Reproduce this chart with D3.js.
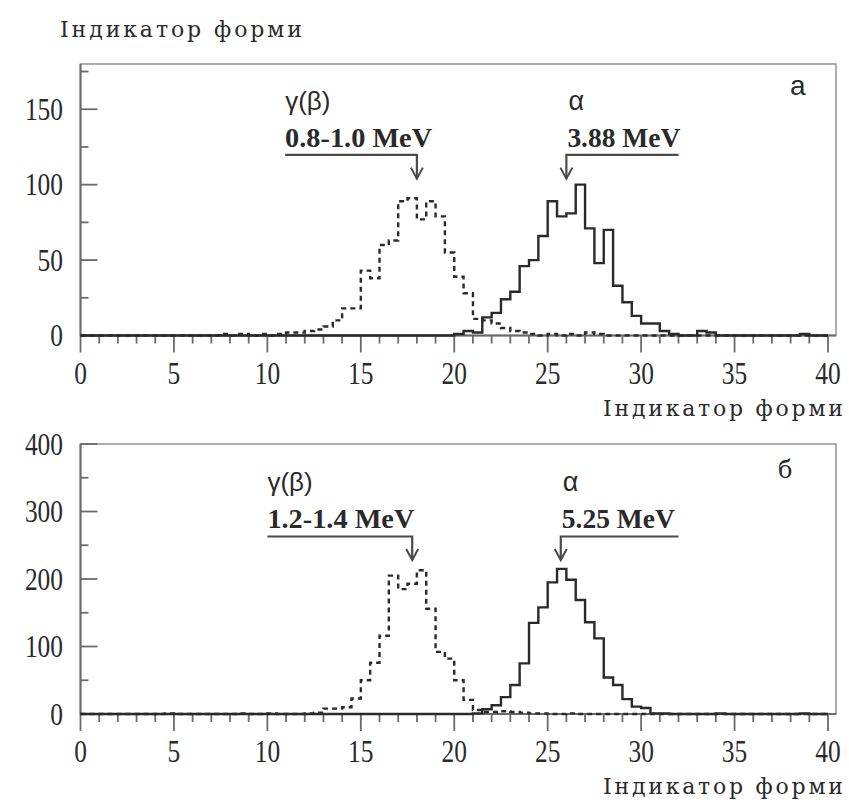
<!DOCTYPE html>
<html><head><meta charset="utf-8">
<script src="https://cdn.jsdelivr.net/npm/d3@7"></script>
<style>body{margin:0;background:#fff}svg{display:block}</style>
</head><body>
<svg id="chart" width="849" height="810"></svg>
<script>
// ---- data ----
const BIN_W = 0.5;           // bin width, bins start at 0
const xMajor = [0,5,10,15,20,25,30,35,40];
const xMinor = d3.range(0,41,1);
const topYMajor = [0,50,100,150];
const topYMinor = [25,75,125,175];
const botYMajor = [0,100,200,300,400];
const botYMinor = [50,150,250,350];
const axisTitle = "Індикатор форми";

const topGamma = [0,0,0,0,0,0,0,0,0,0, 0,0,0,0,0,1,0,1,0,1, 0,1,2,2,3,4,6,10,18,18,
  43,38,60,63,89,91,77,89,79,55, 39,28,11,10,8,5,3,2,1,0, 1,0,1,0,2,1,0,0,0,0,
  0,0,0,0,0,0,0,0,0,0, 0,0,0,0,0,0,0,0,0,0];
const topAlpha = [0,0,0,0,0,0,0,0,0,0, 0,0,0,0,0,0,0,0,0,0, 0,0,0,0,0,0,0,0,0,0,
  0,0,0,0,0,0,0,0,0,0, 1,3,2,12,15,24,29,46,50,66, 89,79,81,100,71,48,70,33,22,13,
  8,8,3,1,0,0,3,2,0,0, 0,0,0,0,0,0,0,1,0,0];
const botGamma = [0,0,0,0,0,0,0,0,0,1, 0,0,0,0,0,0,0,1,0,0, 1,0,0,0,1,2,8,8,10,23,
  50,76,116,205,185,193,213,156,92,82, 50,21,6,3,3,4,3,2,1,1, 0,0,1,0,0,0,0,0,0,0,
  0,0,0,0,0,0,0,0,0,0, 0,0,0,0,0,0,0,0,0,0];
const botAlpha = [0,0,0,0,0,0,0,0,0,0, 0,0,0,0,0,0,0,0,0,0, 0,0,0,0,0,0,0,0,0,0,
  0,0,0,0,0,0,0,0,0,0, 0,0,1,7,13,25,43,75,135,158, 195,215,199,169,136,112,54,43,22,11,
  9,1,1,0,0,0,0,0,1,0, 0,0,0,0,0,0,0,1,0,0];

const panels = [
  {top:64, zero:335.5, ymax:180, yMajor:topYMajor, yMinor:topYMinor, gamma:topGamma, alpha:topAlpha,
   letter:"a", gLabel:"0.8-1.0 MeV", aLabel:"3.88 MeV",
   gTip:[18.0,104], gLineX0:10.95, aTip:[26.0,104], aLineX1:32.0, lineY:119.7},
  {top:444, zero:714, ymax:400, yMajor:botYMajor, yMinor:botYMinor, gamma:botGamma, alpha:botAlpha,
   letter:"б", gLabel:"1.2-1.4 MeV", aLabel:"5.25 MeV",
   gTip:[17.75,228], gLineX0:10.0, aTip:[25.7,228], aLineX1:32.0, lineY:263}
];

// ---- drawing ----
const svg = d3.select("#chart");
const X0 = 80.5, X1 = 828, FRAME_R = 836;
const x = d3.scaleLinear().domain([0,40]).range([X0,X1]);
const ink = "#2a2a2a", axisCol = "#6a6a6a";
const serif = "Liberation Serif, Times New Roman, serif";
const titleFont = "DejaVu Serif, serif";
const sans = "Liberation Sans, Arial, sans-serif";

svg.append("text").attr("x",60).attr("y",37).attr("font-family",titleFont).attr("font-size",22)
  .attr("fill",ink).attr("textLength",242).attr("lengthAdjust","spacing").text(axisTitle);

function stepPoints(arr){
  const pts = arr.map((v,i)=>[i*BIN_W, v]);
  pts.push([arr.length*BIN_W, arr[arr.length-1]]);
  return pts;
}

panels.forEach((p,pi)=>{
  const y = d3.scaleLinear().domain([0,p.ymax]).range([p.zero,p.top]);
  const g = svg.append("g");
  // frame
  g.append("rect").attr("x",X0).attr("y",p.top).attr("width",FRAME_R-X0).attr("height",p.zero-p.top)
    .attr("fill","none").attr("stroke","#9a9a9a").attr("stroke-width",1.6);
  // axes lines
  g.append("line").attr("x1",X0).attr("x2",X0).attr("y1",p.top).attr("y2",p.zero)
    .attr("stroke",axisCol).attr("stroke-width",2);
  g.append("line").attr("x1",X0).attr("x2",FRAME_R).attr("y1",p.zero).attr("y2",p.zero)
    .attr("stroke",axisCol).attr("stroke-width",2);
  // x ticks (downward)
  g.selectAll(".xt").data(xMinor).join("line")
    .attr("x1",d=>x(d)).attr("x2",d=>x(d)).attr("y1",p.zero)
    .attr("y2",d=>p.zero + (d%5===0?17:8))
    .attr("stroke",axisCol).attr("stroke-width",1.8);
  // y ticks (inward)
  g.selectAll(".ytM").data(p.yMajor).join("line")
    .attr("x1",X0).attr("x2",X0+17).attr("y1",d=>y(d)).attr("y2",d=>y(d))
    .attr("stroke",axisCol).attr("stroke-width",1.8);
  g.selectAll(".ytm").data(p.yMinor).join("line")
    .attr("x1",X0).attr("x2",X0+8).attr("y1",d=>y(d)).attr("y2",d=>y(d))
    .attr("stroke",axisCol).attr("stroke-width",1.8);
  // tick labels
  g.selectAll(".xl").data(xMajor).join("text")
    .attr("transform",d=>`translate(${x(d)},${p.zero+48}) scale(0.82,1)`)
    .attr("text-anchor","middle").attr("font-family",serif).attr("font-size",31)
    .attr("fill",ink).text(d=>d);
  g.selectAll(".yl").data(p.yMajor).join("text")
    .attr("transform",d=>`translate(63,${y(d)+10.5}) scale(0.82,1)`)
    .attr("text-anchor","end").attr("font-family",serif).attr("font-size",31)
    .attr("fill",ink).text(d=>d);
  // axis title bottom-right
  g.append("text").attr("x",603).attr("y",p.zero+80).attr("font-family",titleFont).attr("font-size",22)
    .attr("fill",ink).attr("textLength",240).attr("lengthAdjust","spacing").text(axisTitle);

  // histograms
  const line = d3.line().x(d=>x(d[0])).y(d=>y(d[1])).curve(d3.curveStepAfter);
  g.append("path").attr("d",line(stepPoints(p.gamma))).attr("fill","none")
    .attr("stroke",ink).attr("stroke-width",2.4).attr("stroke-dasharray","5,4");
  g.append("path").attr("d",line(stepPoints(p.alpha))).attr("fill","none")
    .attr("stroke",ink).attr("stroke-width",2.4);

  // annotations
  const ly = y(p.lineY);
  const gtx = x(p.gTip[0]), gty = y(p.gTip[1]);
  const atx = x(p.aTip[0]), aty = y(p.aTip[1]);
  const arrowCol = "#4a4a4a";
  const arrow = (pts, tx, ty) => {
    g.append("path").attr("d", d3.line()(pts)).attr("fill","none").attr("stroke",arrowCol).attr("stroke-width",2.2);
    g.append("path").attr("d", `M${tx-6},${ty-11}L${tx},${ty}L${tx+6},${ty-11}`)
      .attr("fill","none").attr("stroke",arrowCol).attr("stroke-width",2);
  };
  const gx0 = x(p.gLineX0);
  arrow([[gx0,ly],[gtx,ly],[gtx,gty]], gtx, gty);
  const ax1 = x(p.aLineX1);
  arrow([[ax1,ly],[atx,ly],[atx,aty]], atx, aty);

  g.append("text").attr("x",gx0).attr("y",ly-8).attr("font-family",serif).attr("font-weight","bold")
    .attr("font-size",27).attr("fill",ink).attr("textLength",147).attr("lengthAdjust","spacingAndGlyphs")
    .text(p.gLabel);
  g.append("text").attr("x",atx+1).attr("y",ly-8).attr("font-family",serif).attr("font-weight","bold")
    .attr("font-size",27).attr("fill",ink).attr("textLength",113).attr("lengthAdjust","spacingAndGlyphs")
    .text(p.aLabel);
  g.append("text").attr("x",gx0).attr("y",ly-45).attr("font-family",sans)
    .attr("font-size",26).attr("fill",ink).text("γ(β)");
  g.append("text").attr("x",atx+2).attr("y",ly-45).attr("font-family",sans)
    .attr("font-size",27).attr("fill",ink).text("α");
  g.append("text").attr("x", pi===0?790:778).attr("y", pi===0?95:478).attr("font-family", pi===0?sans:titleFont)
    .attr("font-size", pi===0?28:24).attr("fill",ink).text(p.letter);
});
</script>
</body></html>
